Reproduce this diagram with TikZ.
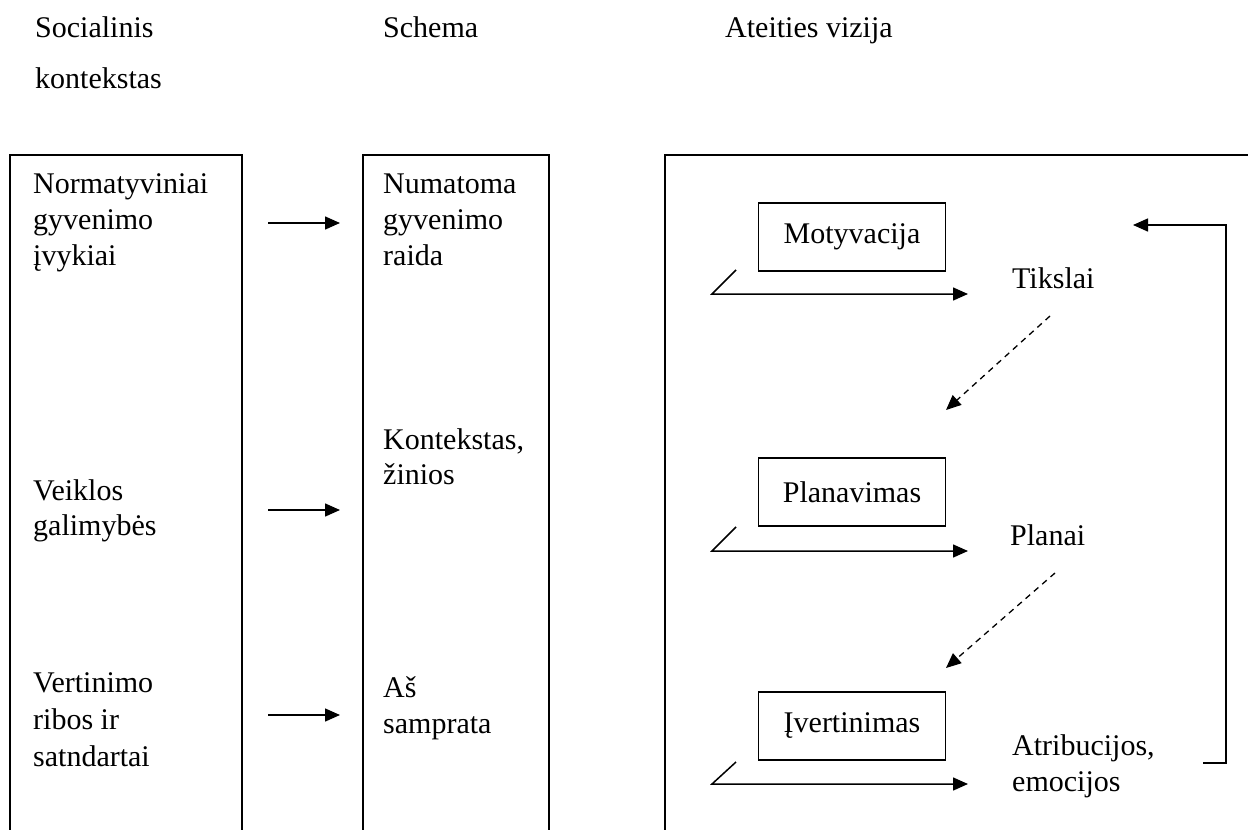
\documentclass[tikz,border=0pt]{standalone}
\usepackage{fontspec}
\setmainfont{Liberation Serif}
\usetikzlibrary{arrows.meta}
\begin{document}
\begin{tikzpicture}[x=1pt,y=-1pt,
  txt/.style={anchor=base west, inner sep=0pt, font=\fontsize{30}{36}\selectfont},
  boxline/.style={line width=1.3pt},
  lbl/.style={draw, line width=1.3pt, minimum width=187pt, minimum height=68pt, inner sep=0pt, font=\fontsize{30}{36}\selectfont},
  arr/.style={line width=1.5pt, -{Triangle[length=15pt,width=13pt]}},
  darr/.style={line width=1.3pt, dash pattern=on 6pt off 5pt, -{Triangle[length=15pt,width=13pt]}}]
\useasboundingbox (0,0) rectangle (1248,830);
% headers
\node[txt] (h1) at (35,37) {Socialinis};
\node[txt] (h1b) at (35,88) {kontekstas};
\node[txt] (h2) at (383,37) {Schema};
\node[txt] (h3) at (725,37) {Ateities vizija};
% column frames (open at bottom)
\draw[boxline] (10,840) -- (10,155) -- (242,155) -- (242,840);
\draw[boxline] (363,840) -- (363,155) -- (549,155) -- (549,840);
\draw[boxline] (665,840) -- (665,155) -- (1250,155);
% left column
\node[txt] (l1a) at (33,193) {Normatyviniai};
\node[txt] (l1b) at (33,229) {gyvenimo};
\node[txt] (l1c) at (33,265) {įvykiai};
\node[txt] (l2a) at (33,500) {Veiklos};
\node[txt] (l2b) at (33,535) {galimybės};
\node[txt] (l3a) at (33,692) {Vertinimo};
\node[txt] (l3b) at (33,729) {ribos ir};
\node[txt] (l3c) at (33,766) {satndartai};
% middle column
\node[txt] (m1a) at (383,193) {Numatoma};
\node[txt] (m1b) at (383,229) {gyvenimo};
\node[txt] (m1c) at (383,265) {raida};
\node[txt] (m2a) at (383,449) {Kontekstas,};
\node[txt] (m2b) at (383,484) {žinios};
\node[txt] (m3a) at (383,697) {Aš};
\node[txt] (m3b) at (383,733) {samprata};
% left arrows
\coordinate (a1s) at (268,223); \coordinate (a1e) at (340,223);
\coordinate (a2s) at (268,510); \coordinate (a2e) at (340,510);
\coordinate (a3s) at (268,715); \coordinate (a3e) at (340,715);
\draw[arr] (a1s) -- (a1e);
\draw[arr] (a2s) -- (a2e);
\draw[arr] (a3s) -- (a3e);
% right column boxes
\node[lbl] (mot) at (852,237) {Motyvacija};
\node[lbl] (plan) at (852,492) {Planavimas};
\node[lbl] (ivert) at (852,726) {Įvertinimas};
% right texts
\node[txt] (tik) at (1012,288) {Tikslai};
\node[txt] (pla) at (1010,545) {Planai};
\node[txt] (atr) at (1012,755) {Atribucijos,};
\node[txt] (emo) at (1012,791) {emocijos};
% tick arrows
\coordinate (t1a) at (736,270); \coordinate (t1b) at (712,294); \coordinate (t1c) at (968,294);
\coordinate (t2a) at (736,527); \coordinate (t2b) at (712,551); \coordinate (t2c) at (968,551);
\coordinate (t3a) at (736,762); \coordinate (t3b) at (712,784); \coordinate (t3c) at (968,784);
\draw[arr] (t1a) -- (t1b) -- (t1c);
\draw[arr] (t2a) -- (t2b) -- (t2c);
\draw[arr] (t3a) -- (t3b) -- (t3c);
% dashed arrows
\coordinate (d1s) at (1050,316); \coordinate (d1e) at (946,410);
\coordinate (d2s) at (1055,573); \coordinate (d2e) at (946,668);
\draw[darr] (d1s) -- (d1e);
\draw[darr] (d2s) -- (d2e);
% feedback
\coordinate (fb1) at (1203,763); \coordinate (fb2) at (1226,763);
\coordinate (fb3) at (1226,225); \coordinate (fb4) at (1133,225);
\draw[arr] (fb1) -- (fb2) -- (fb3) -- (fb4);
\end{tikzpicture}
\end{document}
